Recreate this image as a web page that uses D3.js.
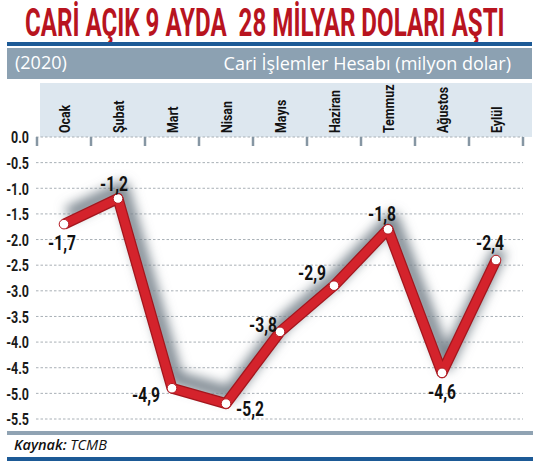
<!DOCTYPE html>
<html><head><meta charset="utf-8">
<script src="https://cdn.jsdelivr.net/npm/d3@7"></script>
<style>
body{margin:0;background:#fff;}
svg{display:block;}
.cond{font-family:Roboto,"Open Sans",sans-serif;font-weight:bold;}
</style></head><body>
<script>
const months = ["Ocak","Şubat","Mart","Nisan","Mayıs","Haziran","Temmuz","Ağustos","Eylül"];
const values = [-1.7,-1.2,-4.9,-5.2,-3.8,-2.9,-1.8,-4.6,-2.4];
const valueLabels = ["-1,7","-1,2","-4,9","-5,2","-3,8","-2,9","-1,8","-4,6","-2,4"];
const yTicks = [0,-0.5,-1,-1.5,-2,-2.5,-3,-3.5,-4,-4.5,-5,-5.5];
const title = "CARİ AÇIK 9 AYDA  28 MİLYAR DOLARI AŞTI";
const yearText = "(2020)";
const subtitle = "Cari İşlemler Hesabı (milyon dolar)";
const sourceBold = "Kaynak:";
const sourceText = " TCMB";
// label placement offsets (dx, dy) relative to point
const labelPos = [[-2,19],[-4,-15],[-26,7],[24,5],[-17,-7],[-22,-13],[-6,-16],[0,19],[-6,-17]];

const W=539,H=464;
const svg=d3.select("body").append("svg").attr("width",W).attr("height",H);
const defs=svg.append("defs");
const f=defs.append("filter").attr("id","sh").attr("x","-20%").attr("y","-30%").attr("width","140%").attr("height","160%");
f.append("feGaussianBlur").attr("in","SourceAlpha").attr("stdDeviation",6).attr("result","b");
f.append("feOffset").attr("in","b").attr("dx",4).attr("dy",-10).attr("result","o");
f.append("feFlood").attr("flood-color","#7a858e").attr("flood-opacity",1);
f.append("feComposite").attr("in2","o").attr("operator","in");

// title (condensed by horizontal scaling)
const t=svg.append("text").attr("class","cond").attr("style","white-space:pre").attr("font-size",39).attr("fill","#b8141f").text(title);
const tw=t.node().getComputedTextLength();
t.attr("transform",`translate(25,35.5) scale(${480/tw},1)`);

svg.append("rect").attr("x",7).attr("y",42).attr("width",525).attr("height",4).attr("fill","#1d5a96");
svg.append("rect").attr("x",7).attr("y",48).attr("width",525).attr("height",31).attr("fill","#8ca1b2");
svg.append("text").attr("x",15).attr("y",69).attr("font-family","Open Sans").attr("font-size",18).attr("fill","#fff").text(yearText);
svg.append("text").attr("x",511).attr("y",70).attr("text-anchor","end").attr("font-family","Open Sans").attr("font-size",18).attr("fill","#fff").text(subtitle);

// header panel
svg.append("rect").attr("x",40).attr("y",83).attr("width",492).attr("height",54).attr("fill","#dde7ef");

const x=d3.scaleBand().domain(months).range([37,523]).padding(0);
const y=d3.scaleLinear().domain([0,-5.5]).range([137,419]);

// grid
svg.append("g").selectAll("line").data(yTicks).join("line")
  .attr("x1",36).attr("x2",523).attr("y1",d=>y(d)).attr("y2",d=>y(d))
  .attr("stroke","#a9b0b6").attr("stroke-width",1).attr("stroke-dasharray","2.5,2");
// y axis labels
const yAxis=d3.axisLeft(y).tickValues(yTicks).tickFormat(d=>d3.format(".1f")(d).replace("−","-")).tickSize(0).tickPadding(0);
const ya=svg.append("g").attr("transform","translate(29,0)").call(yAxis);
ya.select(".domain").remove();
ya.selectAll("text").attr("class","cond").attr("font-size",16).attr("fill","#1a1a1a").attr("dy","0.36em")
  .attr("font-family",null).attr("transform","scale(0.78,1)");

// boundary ticks
const bounds=months.map(m=>x(m)).concat([x.range()[1]]);
svg.append("g").selectAll("line").data(bounds).join("line")
  .attr("x1",d=>d).attr("x2",d=>d).attr("y1",137).attr("y2",146)
  .attr("stroke","#8696a3").attr("stroke-width",2.5);

// month labels
svg.append("g").selectAll("text").data(months).join("text").attr("class","cond")
  .attr("transform",d=>`translate(${x(d)+x.bandwidth()/2+5.5},133) rotate(-90) scale(0.8,1)`)
  .attr("font-size",15.5).attr("fill","#111").text(d=>d);

const pts=months.map((m,i)=>[x(m)+x.bandwidth()/2,y(values[i])]);
const line=d3.line();
svg.append("path").attr("d",line(pts)).attr("fill","none").attr("stroke","#000").attr("stroke-width",14)
  .attr("stroke-linejoin","round").attr("filter","url(#sh)");
svg.append("path").attr("d",line(pts)).attr("fill","none").attr("stroke","#a3161d").attr("stroke-width",11).attr("stroke-linejoin","round");
svg.append("path").attr("d",line(pts)).attr("fill","none").attr("stroke","#d4232c").attr("stroke-width",8.5).attr("stroke-linejoin","round");
svg.append("g").selectAll("circle").data(pts).join("circle")
  .attr("cx",d=>d[0]).attr("cy",d=>d[1]).attr("r",4.8).attr("fill","#fff").attr("stroke","#b31a22").attr("stroke-width",1);

svg.append("g").selectAll("text").data(pts).join("text").attr("class","cond")
  .attr("transform",(d,i)=>`translate(${d[0]+labelPos[i][0]},${d[1]+labelPos[i][1]}) scale(0.78,1)`)
  .attr("text-anchor","middle").attr("dy","0.36em").attr("font-size",20).attr("fill","#111")
  .text((d,i)=>valueLabels[i]);

// bottom
svg.append("rect").attr("x",7).attr("y",431).attr("width",526).attr("height",4).attr("fill","#90a3b3");
const src=svg.append("text").attr("x",14).attr("y",450).attr("font-family","Open Sans").attr("font-style","italic").attr("font-size",14.5).attr("fill","#111");
src.append("tspan").attr("font-weight","600").text(sourceBold);
src.append("tspan").text(sourceText);
svg.append("rect").attr("x",7).attr("y",457).attr("width",526).attr("height",4).attr("fill","#1d5a96");
</script></body></html>
